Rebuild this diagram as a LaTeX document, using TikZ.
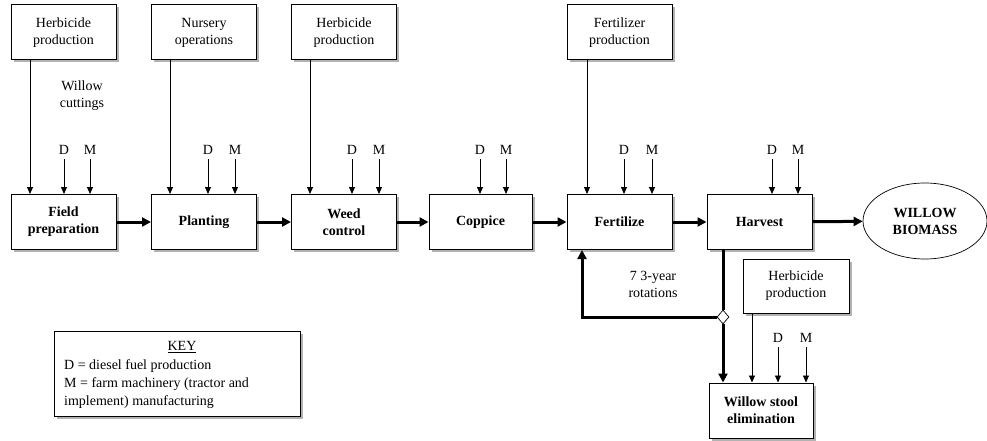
\documentclass[tikz,border=0pt]{standalone}
\usepackage{fontspec}
\setmainfont{Liberation Serif}
\usetikzlibrary{arrows.meta,shapes.geometric}
\begin{document}
\begin{tikzpicture}[x=1pt,y=-1pt,
  every node/.style={font=\fontsize{14}{17}\selectfont, inner sep=1pt},
  shad/.style={preaction={fill=gray!60, transform canvas={xshift=2.5pt,yshift=-2.5pt}}},
  topbox/.style={draw, line width=1pt, fill=white, shad, minimum width=105pt, minimum height=55pt, align=center},
  mainbox/.style={topbox, font=\fontsize{14}{17}\selectfont\bfseries},
  thin arr/.style={line width=0.9pt, -{Triangle[length=7pt,width=6pt]}},
  thick arr/.style={line width=3pt, -{Triangle[length=9pt,width=9pt]}},
  lbl/.style={inner sep=0pt}
]
\useasboundingbox (0,0) rectangle (987,441);

% top boxes
\node[topbox] (hp1) at (63.5,32.5) {Herbicide\\production};
\node[topbox] (no) at (204,32.5) {Nursery\\operations};
\node[topbox] (hp2) at (344,32.5) {Herbicide\\production};
\node[topbox] (fp) at (619.5,32.5) {Fertilizer\\production};

% main boxes
\node[mainbox] (field) at (63.5,222) {Field\\preparation};
\node[mainbox] (plant) at (204,222) {Planting};
\node[mainbox] (weed) at (344,222) {Weed\\control};
\node[mainbox, minimum width=103pt] (copp) at (480.5,222) {Coppice};
\node[mainbox] (fert) at (619.5,222) {Fertilize};
\node[mainbox] (harv) at (759.5,222) {Harvest};
\node[draw, line width=0.7pt, ellipse, minimum width=124pt, minimum height=76pt, align=center,
      font=\fontsize{14}{17}\selectfont\bfseries] (bio) at (925,221) {WILLOW\\BIOMASS};

\node[topbox, minimum width=106pt, minimum height=54pt] (hp3) at (796,286) {Herbicide\\production};
\node[mainbox, minimum width=104pt] (wse) at (761,410.5) {Willow stool\\elimination};

% main flow
\draw[thick arr] (field) -- (plant);
\draw[thick arr] (plant) -- (weed);
\draw[thick arr] (weed) -- (copp);
\draw[thick arr] (copp) -- (fert);
\draw[thick arr] (fert) -- (harv);
\draw[thick arr] (harv) -- (bio);

% lines from top boxes
\draw[thin arr] ([xshift=-33.5pt]hp1.south) -- ([xshift=-33.5pt]field.north);
\draw[thin arr] ([xshift=-34pt]no.south) -- ([xshift=-34pt]plant.north);
\draw[thin arr] ([xshift=-34pt]hp2.south) -- ([xshift=-34pt]weed.north);
\draw[thin arr] ([xshift=-32.5pt]fp.south) -- ([xshift=-32.5pt]fert.north);
\draw[thin arr] ([xshift=-44pt]hp3.south) -- ([xshift=-9pt]wse.north);

\node[align=center] (cut) at (82,96) {Willow\\cuttings};

% D and M inputs
\foreach \n/\dx/\mx/\b in {f/64/90/field, p/208/235/plant, w/352/379/weed, c/480/506/copp, e/624/652/fert, h/772/798/harv}{
  \node[lbl] (d\n) at (\dx,150) {D};
  \node[lbl] (m\n) at (\mx,150) {M};
  \draw[thin arr] ([yshift=-4pt]d\n.south) -- (d\n |- \b.north);
  \draw[thin arr] ([yshift=-4pt]m\n.south) -- (m\n |- \b.north);
}
\node[lbl] (dx) at (778,338) {D};
\node[lbl] (mx) at (806,338) {M};
\draw[thin arr] ([yshift=-4pt]dx.south) -- (dx |- wse.north);
\draw[thin arr] ([yshift=-4pt]mx.south) -- (mx |- wse.north);

% feedback loop
\node[draw, diamond, fill=white, line width=0.7pt, minimum width=12pt, minimum height=14pt, inner sep=0pt] (dia) at (723,317) {};
\coordinate (lc) at (582,317);
\draw[line width=3pt] ([xshift=-36.5pt]harv.south) -- (dia.north);
\draw[thick arr] (dia.west) -- (lc) -- (lc |- fert.south);
\draw[thick arr] (dia.south) -- (dia |- wse.north);
\node[align=center] (rot) at (653,284) {7 3-year\\rotations};

% key
\node[draw, line width=1pt, fill=white, shad, minimum width=246pt, minimum height=85pt] (key) at (177,373.5) {};
\node (kt) at (182,347) {\underline{KEY}};
\node[anchor=west] (k1) at (63,366) {D = diesel fuel production};
\node[anchor=west] (k2) at (63,384) {M = farm machinery (tractor and};
\node[anchor=west] (k3) at (63,402) {implement) manufacturing};
\end{tikzpicture}
\end{document}
